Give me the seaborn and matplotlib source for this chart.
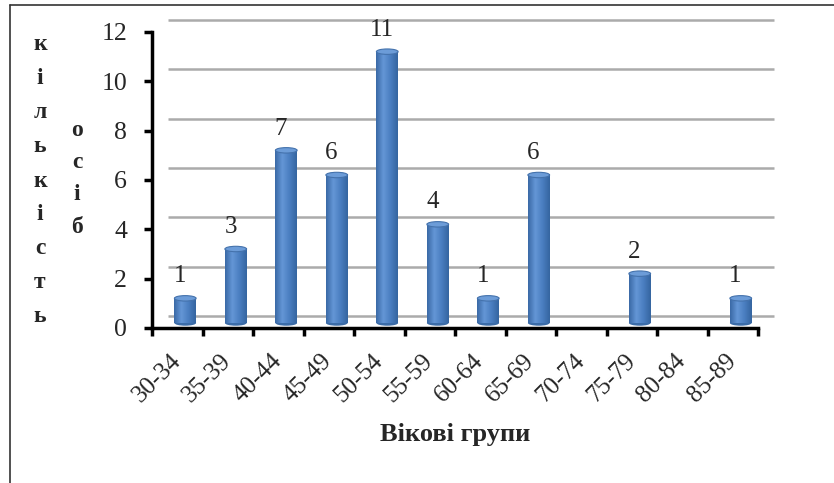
import numpy as np
import pandas as pd
import matplotlib
matplotlib.use('Agg')
import matplotlib.pyplot as plt
import matplotlib.transforms as mtransforms
from matplotlib.patches import Ellipse
from matplotlib.lines import Line2D
import seaborn as sns

age_groups = ['30-34', '35-39', '40-44', '45-49', '50-54', '55-59',
              '60-64', '65-69', '70-74', '75-79', '80-84', '85-89']
counts = [1, 3, 7, 6, 11, 4, 1, 6, 0, 2, 0, 1]
y_ticks = [0, 2, 4, 6, 8, 10, 12]
x_title = 'Вікові групи'
y_title_1 = 'кількість'
y_title_2 = 'осіб'

df = pd.DataFrame({'group': age_groups, 'count': counts})

sns.set_style('white')
plt.rcParams['font.family'] = ['Liberation Serif', 'DejaVu Serif']

fig = plt.figure(figsize=(8.34, 4.83), dpi=100)
ax = fig.add_axes([152 / 834, 1 - 328 / 483, (758 - 152) / 834, (328 - 32) / 483])

bar_color = '#4F81BD'
sns.barplot(data=df, x='group', y='count', color=bar_color, width=0.43,
            saturation=1, ax=ax, zorder=3)

# 3d look: bars sit a little behind the front axis
shift = mtransforms.ScaledTranslation(8 / 100, 5 / 100, fig.dpi_scale_trans)
bar_tr = ax.transData + shift
grad = np.linspace(0, 1, 64)
cmap = matplotlib.colors.LinearSegmentedColormap.from_list(
    'cyl', ['#3A69A6', '#6496D6', '#4A7EC0', '#3565A0'])
for p in ax.patches:
    h = p.get_height()
    if h <= 0:
        p.set_visible(False)
        continue
    p.set_transform(bar_tr)
    p.set_edgecolor('none')
    x0 = p.get_x()
    w = p.get_width()
    im = ax.imshow(np.outer(np.ones(2), grad), cmap=cmap, aspect='auto',
                   extent=(x0, x0 + w, 0, h), transform=bar_tr, zorder=4)
    im.set_clip_path(p)
    cap = Ellipse((x0 + w / 2, h), w, 0.22, transform=bar_tr,
                  facecolor='#6C9CD8', edgecolor='#4472AC', lw=0.8, zorder=5)
    ax.add_patch(cap)
    base = Ellipse((x0 + w / 2, 0), w, 0.22, transform=bar_tr,
                   facecolor='#3B6CA8', edgecolor='none', zorder=2.5)
    ax.add_patch(base)

# back wall gridlines
grid_shift = mtransforms.ScaledTranslation(16 / 100, 12 / 100, fig.dpi_scale_trans)
grid_tr = ax.transData + grid_shift
for yv in y_ticks:
    ax.plot([-0.5, 11.5], [yv, yv], transform=grid_tr, color='#ABABAB',
            lw=1.8, zorder=1, clip_on=False, solid_capstyle='butt')
    # slanted connector from the axis to the back wall
    x_a, y_a = ax.transData.transform((-0.5, yv))
    x_b, y_b = grid_tr.transform((-0.5, yv))
    fig.add_artist(Line2D([x_a / 834, x_b / 834], [y_a / 483, y_b / 483],
                          color='#ABABAB', lw=1.5, zorder=1))
# floor right edge
x_a, y_a = ax.transData.transform((11.5, 0))
x_b, y_b = grid_tr.transform((11.5, 0))
fig.add_artist(Line2D([x_a / 834, x_b / 834], [y_a / 483, y_b / 483],
                      color='#ABABAB', lw=1.5, zorder=1))

# value labels
for i, v in enumerate(counts):
    if v == 0:
        continue
    ax.annotate(str(v), xy=(i, v), xytext=(2, 15), textcoords='offset points',
                ha='center', va='baseline', fontsize=18, zorder=6,
                annotation_clip=False)

ax.set_xlim(-0.5, 11.5)
ax.set_ylim(0, 12)
ax.set_yticks(y_ticks)
ax.set_yticklabels([str(t) for t in y_ticks], fontsize=18.5)
ax.set_xticks(range(len(age_groups)))
ax.set_xticks(np.arange(-0.5, 12, 1), minor=True)
ax.set_xticklabels(age_groups, rotation=45, ha='right', va='center',
                   rotation_mode='anchor', fontsize=18)
ax.tick_params(axis='x', which='major', bottom=True, length=0, pad=21)
ax.tick_params(axis='x', which='minor', bottom=True, length=6, width=2.5,
               direction='out', color='black')
ax.tick_params(axis='y', left=True, length=6, width=2.5, direction='out',
               color='black', pad=12)
ax.set_xlabel(x_title, fontsize=19, fontweight='bold', labelpad=12)
ax.set_ylabel('')

for s in ['top', 'right']:
    ax.spines[s].set_visible(False)
for s in ['left', 'bottom']:
    ax.spines[s].set_color('black')
    ax.spines[s].set_linewidth(2.5)
    ax.spines[s].set_zorder(7)

# stacked vertical axis title
for k, ch in enumerate(y_title_1):
    fig.text(40 / 834, 1 - (45 + k * 34) / 483, ch, ha='center', va='center',
             fontsize=17, fontweight='bold')
for k, ch in enumerate(y_title_2):
    fig.text(77 / 834, 1 - (130 + k * 32.5) / 483, ch, ha='center', va='center',
             fontsize=17, fontweight='bold')

# outer frame
fig.add_artist(Line2D([9.5 / 834, 9.5 / 834], [0, 1 - 5 / 483], color='#333333', lw=1.2))
fig.add_artist(Line2D([9.5 / 834, 1], [1 - 5 / 483, 1 - 5 / 483], color='#333333', lw=1.2))

fig.savefig('out.png', dpi=100)
